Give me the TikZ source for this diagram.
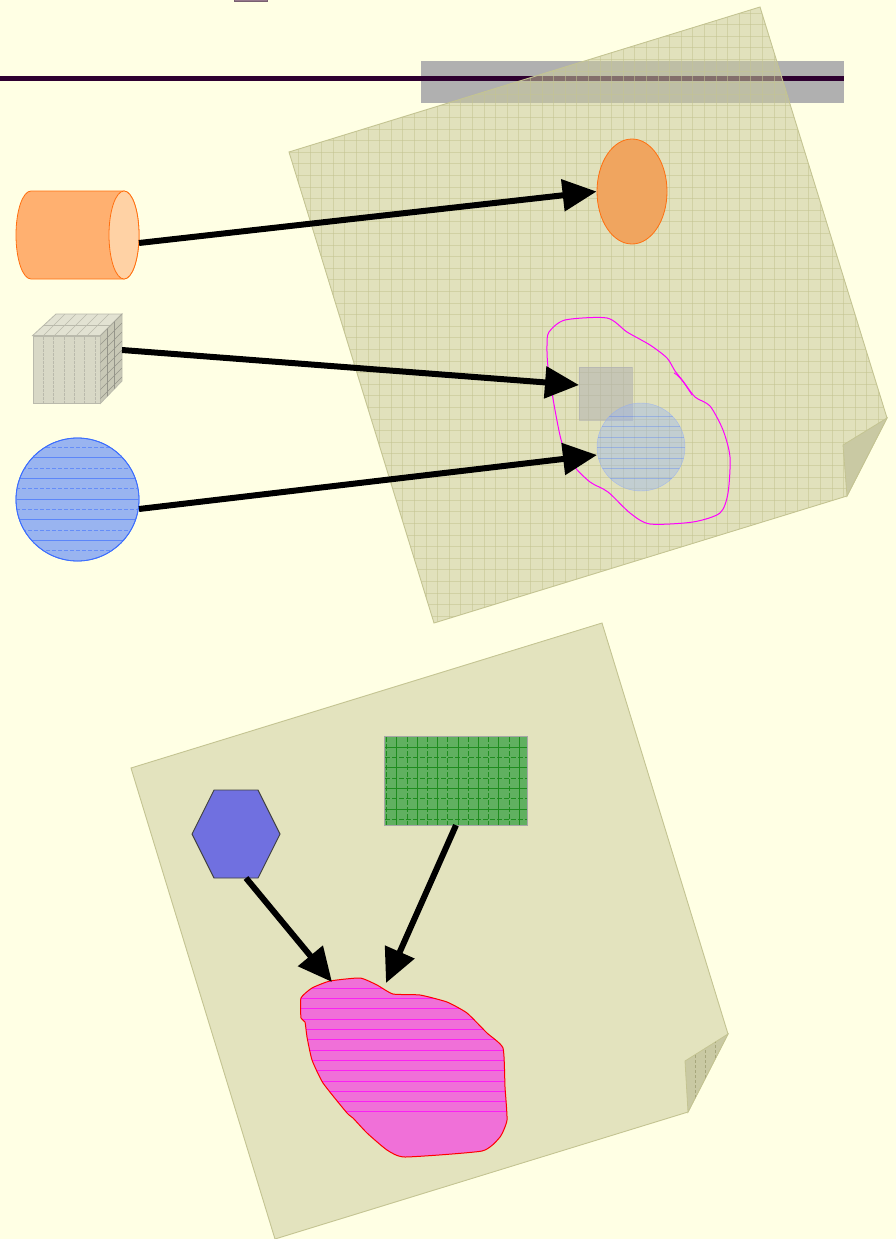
\documentclass[tikz,border=0pt]{standalone}
\usetikzlibrary{arrows.meta,shapes.geometric}
\definecolor{canvasbg}{RGB}{255,255,228}
\definecolor{barshade}{RGB}{176,176,176}
\definecolor{rulecol}{RGB}{46,0,48}
\definecolor{tabfill}{RGB}{150,120,140}
\definecolor{paperfill}{RGB}{202,202,156}
\definecolor{paperedge}{RGB}{196,196,146}
\definecolor{papergrid}{RGB}{196,196,146}
\definecolor{paperlow}{RGB}{227,227,190}
\definecolor{foldfill}{RGB}{201,201,163}
\definecolor{orangeA}{RGB}{255,176,112}
\definecolor{orangeB}{RGB}{255,210,165}
\definecolor{orangeline}{RGB}{255,112,16}
\definecolor{ovalfill}{RGB}{240,165,95}
\definecolor{cubefront}{RGB}{216,216,198}
\definecolor{cubetop}{RGB}{226,226,210}
\definecolor{cubeside}{RGB}{200,200,182}
\definecolor{cubeline}{RGB}{186,186,172}
\definecolor{ballfill}{RGB}{153,180,240}
\definecolor{ballline}{RGB}{60,110,255}
\definecolor{hexfill}{RGB}{112,112,224}
\definecolor{greenfill}{RGB}{96,176,96}
\definecolor{greenline}{RGB}{30,140,30}
\definecolor{blobfill}{RGB}{240,112,216}
\definecolor{blobline}{RGB}{255,0,255}
\tikzset{
  conn/.style={line width=6pt, -{Triangle[length=34pt,width=31pt]}},
  paperline/.style={draw=paperedge, line width=0.9pt},
  gridline/.style={draw=papergrid, line width=0.9pt, draw opacity=0.55},
  hatch/.style={line width=0.9pt},
}
\begin{document}
\begin{tikzpicture}[x=1pt,y=-1pt]
\useasboundingbox (0,0) rectangle (896,1239);
\fill[canvasbg] (0,0) rectangle (896,1239);

% header: tab, shaded bar and rule
\filldraw[fill=tabfill, draw=tabfill!80!black, line width=0.6pt] (234,-6) rectangle (267,1.2);
\fill[barshade] (421,61) rectangle (844,103);
\fill[rulecol] (0,76) rectangle (844,80.5);

% ---------- upper sheet ----------
\path[fill=paperfill, fill opacity=0.55] (760,7) -- (887,418) -- (847,496) -- (434,623) -- (289,152) -- cycle;
\begin{scope}
  \clip (760,7) -- (887,418) -- (847,496) -- (434,623) -- (289,152) -- cycle;
  \foreach \gx in {298.5,310.1,...,890} \draw[gridline] (\gx,0) -- (\gx,630);
  \foreach \gy in {13,24.6,...,630} \draw[gridline] (280,\gy) -- (890,\gy);
\end{scope}
\path[paperline] (760,7) -- (887,418) -- (847,496) -- (434,623) -- (289,152) -- cycle;
\filldraw[fill=foldfill, draw=paperedge, line width=0.8pt] (887,418) -- (843,445) -- (847,496) -- cycle;

% items placed on the upper sheet
\node[ellipse, minimum width=70pt, minimum height=105pt, inner sep=0pt,
      fill=ovalfill, draw=orangeline, line width=0.8pt] (oval) at (632,191.5) {};
\node[rectangle, minimum width=53pt, minimum height=53pt, inner sep=0pt,
      fill=barshade, fill opacity=0.55, draw=barshade, draw opacity=0.6] (tile) at (605.5,393.5) {};
\node[circle, minimum size=88pt, inner sep=0pt,
      fill=ballfill, fill opacity=0.42, draw=ballline!60, draw opacity=0.6] (disc) at (641,447) {};
\begin{scope}
  \clip (disc.center) circle[radius=44];
  \foreach \hy in {416.4,426.8,...,488} \draw[ballline, hatch, draw opacity=0.3] (590,\hy) -- (690,\hy);
\end{scope}
\draw[blobline, line width=1pt] plot[smooth cycle, tension=0.45] coordinates {
  (549,332) (565,320) (607,318) (627,332) (650,345) (667,358) (675,371)
  (683,381) (695,397) (710,406) (723,430) (730,457) (728,493) (720,513)
  (693,522) (650,524) (630,513) (608,492) (590,482) (573,465) (562,443)
  (555,410) (548,367) (547,345)};
\draw[blobline, line width=0.8pt] (674,373) .. controls (680,376) and (686,386) .. (692,395);

% ---------- source shapes on the left ----------
% cylinder
\filldraw[fill=orangeA, draw=orangeline, line width=0.8pt]
  (31,191) -- (124,191) arc[start angle=-90, end angle=90, x radius=15, y radius=44]
  -- (31,279) arc[start angle=90, end angle=270, x radius=15, y radius=44] -- cycle;
\filldraw[fill=orangeB, draw=orangeline, line width=0.8pt] (124,235) ellipse[x radius=15, y radius=44];
\node[rectangle, minimum width=123pt, minimum height=88pt, inner sep=0pt] (cyl) at (77.5,235) {};
\coordinate (cylport) at (139,243);

% cube
\node[rectangle, minimum size=67pt, inner sep=0pt, fill=cubefront, draw=cubeline, line width=0.8pt] (cube) at (66.5,369.5) {};
\foreach \vx in {43.3,53.6,...,96} \draw[cubeline, line width=0.6pt, dash pattern=on 3pt off 1pt] (\vx,336.5) -- (\vx,402.5);
\filldraw[fill=cubetop, draw=cubeline, line width=0.8pt] (cube.north west) -- (56,314) -- (122,314) -- (cube.north east) -- cycle;
\filldraw[fill=cubeside, draw=cubeline, line width=0.8pt] (cube.north east) -- (122,314) -- (122,381) -- (cube.south east) -- cycle;
\begin{scope}
  \clip (cube.north west) -- (56,314) -- (122,314) -- (cube.north east) -- cycle;
  \foreach \tx in {65,76,87,98,109} \draw[cubeline, line width=0.5pt] (\tx,314) -- ++(-22,22);
  \foreach \ty in {325} \draw[cubeline, line width=0.5pt] (20,\ty) -- (130,\ty);
\end{scope}
\begin{scope}
  \clip (cube.north east) -- (122,314) -- (122,381) -- (cube.south east) -- cycle;
  \foreach \sy in {332,341,...,400} \draw[cubeline!80!black, line width=0.5pt] (100,\sy+4) -- (122,\sy-18);
  \foreach \sx in {107,114} \draw[cubeline!80!black, line width=0.5pt] (\sx,300) -- (\sx,410);
\end{scope}
\coordinate (cubeport) at (122,350);

% striped ball
\node[circle, minimum size=123pt, inner sep=0pt, fill=ballfill, draw=ballline, line width=0.8pt] (ball) at (77.5,499.5) {};
\begin{scope}
  \clip (ball.center) circle[radius=61];
  \foreach \hy [count=\n] in {447.3,457.65,...,552} {
    \ifodd\n
      \draw[ballline, hatch, draw opacity=0.55, dash pattern=on 4pt off 2pt] (10,\hy) -- (145,\hy);
    \else
      \draw[ballline, hatch, draw opacity=0.65] (10,\hy) -- (145,\hy);
    \fi
  }
\end{scope}
\draw[ballline, line width=0.8pt] (ball.center) circle[radius=61.5];
\coordinate (ballport) at (139,509);

% targets on the upper sheet
\coordinate (tileport) at (579,385);
\coordinate (discport) at (597,455);

% connectors, upper group
\draw[conn] (cylport) -- (oval.west);
\draw[conn] (cubeport) -- (tileport);
\draw[conn] (ballport) -- (discport);

% ---------- lower sheet ----------
\filldraw[fill=paperlow, draw=paperedge, line width=0.9pt] (602,623) -- (728,1034) -- (688,1112) -- (275,1239) -- (131,768) -- cycle;
\filldraw[fill=foldfill, draw=paperedge, line width=0.8pt] (728,1034) -- (685,1061) -- (688,1112) -- cycle;
\begin{scope}
  \clip (728,1034) -- (685,1061) -- (688,1112) -- cycle;
  \foreach \fx in {695,705,715} \draw[paperedge!85!black, line width=0.5pt, dash pattern=on 3pt off 2pt] (\fx,1040) -- (\fx,1120);
\end{scope}

% hexagon
\filldraw[fill=hexfill, draw=black!75, line width=0.9pt] (192,834) -- (214,790) -- (258,790) -- (280,834) -- (258,878) -- (214,878) -- cycle;
\node[rectangle, minimum width=88pt, minimum height=88pt, inner sep=0pt] (hex) at (236,834) {};
\coordinate (hexport) at (246,878);

% green grid block
\node[rectangle, minimum width=142pt, minimum height=88pt, inner sep=0pt, fill=greenfill] (grid) at (456,781) {};
\begin{scope}
  \clip (grid.north west) rectangle (grid.south east);
  \foreach \gx [count=\n] in {386.7,396.9,...,528} {
    \ifodd\n \draw[greenline, line width=1pt, dash pattern=on 5pt off 2pt] (\gx,737) -- (\gx,825);
    \else \draw[greenline, line width=1pt] (\gx,737) -- (\gx,825); \fi }
  \foreach \gy [count=\n] in {747.3,757.6,...,826} {
    \ifodd\n \draw[greenline, line width=1pt] (385,\gy) -- (527,\gy);
    \else \draw[greenline, line width=1pt, dash pattern=on 5pt off 2pt] (385,\gy) -- (527,\gy); \fi }
\end{scope}
\draw[black!35, line width=0.8pt] (grid.north west) rectangle (grid.south east);

% pink blob
\path[fill=blobfill] plot[smooth cycle, tension=0.3] coordinates {
  (301,998) (312,988) (330,981) (360,978) (377,985) (393,994) (420,995)
  (447,1002) (467,1013) (487,1033) (503,1048) (505,1087) (507,1120)
  (500,1137) (482,1151) (405,1157) (387,1150) (367,1133) (353,1118)
  (347,1113) (323,1083) (312,1060) (307,1037) (305,1022) (301,1018)};
\begin{scope}
  \clip plot[smooth cycle, tension=0.3] coordinates {
  (301,998) (312,988) (330,981) (360,978) (377,985) (393,994) (420,995)
  (447,1002) (467,1013) (487,1033) (503,1048) (505,1087) (507,1120)
  (500,1137) (482,1151) (405,1157) (387,1150) (367,1133) (353,1118)
  (347,1113) (323,1083) (312,1060) (307,1037) (305,1022) (301,1018)};
  \foreach \by in {988.3,998.6,...,1114} \draw[blobline, hatch, draw opacity=0.7] (295,\by) -- (515,\by);
\end{scope}
\draw[red, line width=1pt] plot[smooth cycle, tension=0.3] coordinates {
  (301,998) (312,988) (330,981) (360,978) (377,985) (393,994) (420,995)
  (447,1002) (467,1013) (487,1033) (503,1048) (505,1087) (507,1120)
  (500,1137) (482,1151) (405,1157) (387,1150) (367,1133) (353,1118)
  (347,1113) (323,1083) (312,1060) (307,1037) (305,1022) (301,1018)};
\coordinate (blobleft) at (332,982);
\coordinate (blobright) at (386,983);

% connectors, lower group
\draw[conn] (hexport) -- (blobleft);
\draw[conn] (grid.south) -- (blobright);
\end{tikzpicture}
\end{document}
